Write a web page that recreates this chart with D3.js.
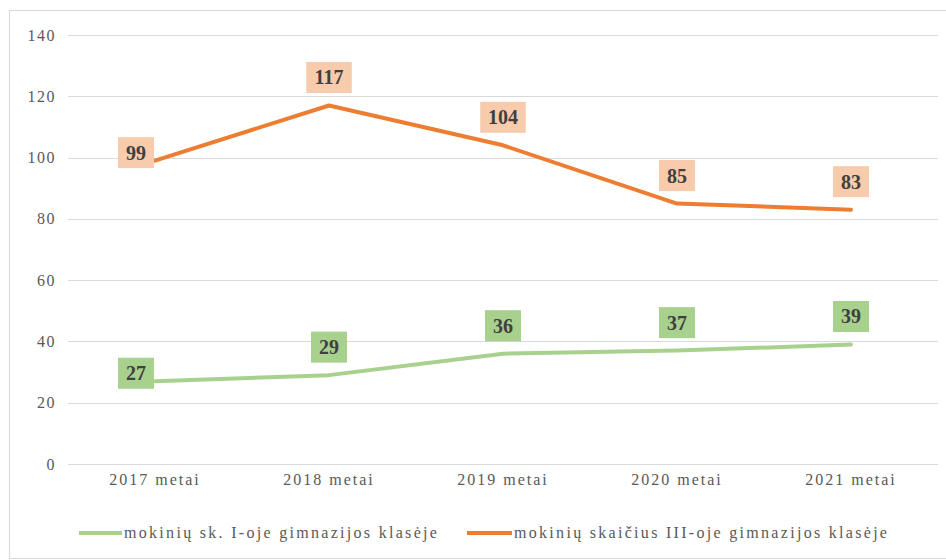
<!DOCTYPE html>
<html>
<head>
<meta charset="utf-8">
<script src="https://cdn.jsdelivr.net/npm/d3@7"></script>
<style>
  body { margin: 0; background: #fff; }
  svg text { font-family: "Liberation Serif", "DejaVu Serif", serif; }
</style>
</head>
<body>
<svg id="chart" width="946" height="560"></svg>
<script>
const years = ["2017 metai", "2018 metai", "2019 metai", "2020 metai", "2021 metai"];
const firstGrade = [27, 29, 36, 37, 39];
const thirdGrade = [99, 117, 104, 85, 83];
const yTicks = [0, 20, 40, 60, 80, 100, 120, 140];

const series = [
  { name: "mokinių sk. I-oje gimnazijos klasėje", values: firstGrade, color: "#a9d18e", fill: "#a9d18e" },
  { name: "mokinių skaičius III-oje gimnazijos klasėje", values: thirdGrade, color: "#ed7d31", fill: "#f8cbad" }
];

const serif = '"Liberation Serif", "DejaVu Serif", serif';
const svg = d3.select("#chart");

// outer chart border
svg.append("rect")
  .attr("x", 9.5).attr("y", 10.5)
  .attr("width", 940).attr("height", 548)
  .attr("fill", "none").attr("stroke", "#d9d9d9");

const x = d3.scaleBand().domain(years).range([68, 938]);
const y = d3.scaleLinear().domain([0, 140]).range([464, 35]);

// gridlines
svg.append("g")
  .selectAll("line")
  .data(yTicks)
  .join("line")
  .attr("x1", 68).attr("x2", 938)
  .attr("y1", d => Math.round(y(d)) + 0.5)
  .attr("y2", d => Math.round(y(d)) + 0.5)
  .attr("stroke", "#d9d9d9").attr("stroke-width", 1);

// y axis labels
const yAxis = svg.append("g")
  .attr("transform", "translate(56,0)")
  .call(d3.axisLeft(y).tickValues(yTicks).tickSize(0).tickPadding(0));
yAxis.select(".domain").remove();
yAxis.attr("font-family", serif);
yAxis.selectAll("text")
  .attr("font-size", 16).attr("fill", "#595959")
  .attr("letter-spacing", 1.5)
  .style("font-family", serif);

// x axis labels
const xAxis = svg.append("g")
  .attr("transform", "translate(0,474)")
  .call(d3.axisBottom(x).tickSize(0).tickPadding(0));
xAxis.select(".domain").remove();
xAxis.attr("font-family", serif);
xAxis.selectAll("text")
  .attr("font-size", 16).attr("fill", "#595959")
  .attr("letter-spacing", 2)
  .style("font-family", serif);

const cx = d => x(d) + x.bandwidth() / 2;

const line = d3.line()
  .x((d, i) => cx(years[i]))
  .y(d => y(d));

series.forEach(s => {
  svg.append("path")
    .datum(s.values)
    .attr("d", line)
    .attr("fill", "none")
    .attr("stroke", s.color)
    .attr("stroke-width", 4)
    .attr("stroke-linejoin", "round")
    .attr("stroke-linecap", "round");
});

// data labels: first point to the left, the rest above
const boxWidth = d => String(d).length * 9.5 + 17;
series.forEach(s => {
  const lbl = svg.append("g").selectAll("g")
    .data(s.values)
    .join("g")
    .attr("transform", (d, i) => {
      const px = cx(years[i]);
      const py = y(d);
      if (i === 0) return `translate(${px - boxWidth(d) / 2 - 1},${py - 8})`;
      return `translate(${px},${py - 28})`;
    });
  lbl.each(function(d) {
    const w = boxWidth(d);
    const g = d3.select(this);
    g.append("rect")
      .attr("x", -w / 2).attr("y", -15.5)
      .attr("width", w).attr("height", 31)
      .attr("fill", s.fill);
    g.append("text")
      .attr("text-anchor", "middle")
      .attr("dy", "0.35em")
      .attr("font-size", 20).attr("font-weight", "bold")
      .attr("fill", "#404040")
      .style("font-family", serif)
      .text(d);
  });
});

// legend
const legendItems = [
  { s: series[0], x1: 79, x2: 122 },
  { s: series[1], x1: 467, x2: 512 }
];
legendItems.forEach(l => {
  svg.append("line")
    .attr("x1", l.x1).attr("x2", l.x2)
    .attr("y1", 533).attr("y2", 533)
    .attr("stroke", l.s.color).attr("stroke-width", 4);
  svg.append("text")
    .attr("x", l.x2 + 2).attr("y", 533)
    .attr("dy", "0.32em")
    .attr("font-size", 16).attr("fill", "#595959")
    .attr("letter-spacing", 2.3)
    .style("font-family", serif)
    .text(l.s.name);
});
</script>
</body>
</html>
